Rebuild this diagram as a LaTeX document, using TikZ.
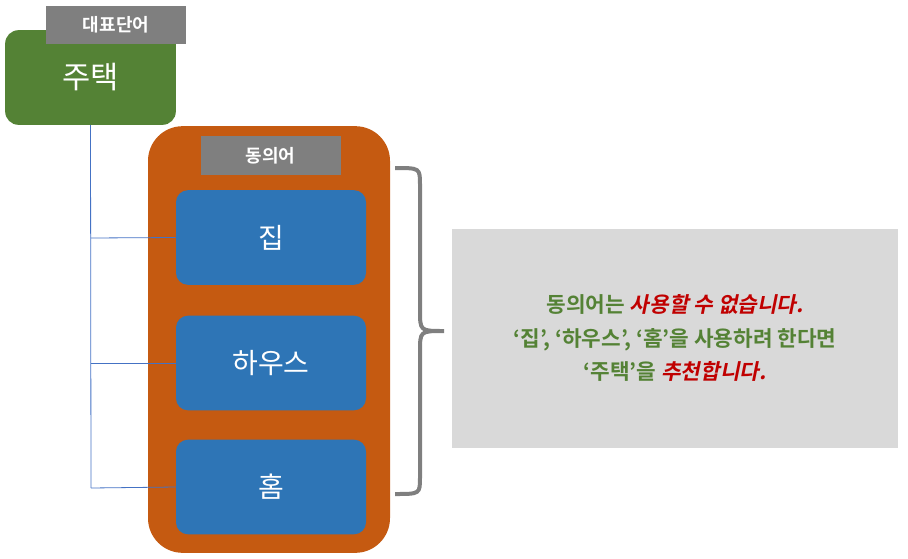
\documentclass[tikz,border=0pt]{standalone}
\usepackage{fontspec}
\setmainfont{Noto Sans CJK KR}
\newfontfamily\kr{Noto Sans CJK KR}
\newfontfamily\kb{Noto Sans CJK KR Bold}
\newfontfamily\kbi[FakeSlant=0.2]{Noto Sans CJK KR Bold}
\definecolor{gr}{HTML}{548235}
\definecolor{og}{HTML}{C55A11}
\definecolor{bl}{HTML}{2E75B6}
\definecolor{ln}{HTML}{4472C4}
\definecolor{gy}{HTML}{7F7F7F}
\definecolor{lg}{HTML}{D9D9D9}
\definecolor{rd}{HTML}{C00000}
\tikzset{
 bluebox/.style={fill=bl,rounded corners=9pt,minimum width=142.5pt,minimum height=71pt,text=white,font=\kr\fontsize{21}{24}\selectfont},
 taglbl/.style={fill=gy,text=white,minimum width=105pt,minimum height=29pt,font=\kb\fontsize{13.5}{16}\selectfont},
 conn/.style={draw=ln,line width=0.6pt}
}
\begin{document}
\begin{tikzpicture}[x=0.75pt,y=-0.75pt]
\useasboundingbox (0,0) rectangle (908,558);
\node[fill=gr,rounded corners=10pt,minimum width=128pt,minimum height=71pt,text=white,font=\kr\fontsize{23}{26}\selectfont] (main) at (90.5,77.5) {주택};
\node[taglbl] (tag1) at (116,25) {대표단어};
\node[fill=og,rounded corners=26pt,minimum width=181.5pt,minimum height=320pt] (org) at (269,339.5) {};
\node[taglbl] (tag2) at (270.5,155.5) {동의어};
\node[bluebox] (b1) at (271,237.5) {집};
\node[bluebox] (b2) at (271,363) {하우스};
\node[bluebox] (b3) at (271,487) {홈};
\coordinate (top) at (91,125);
\coordinate (bot) at (91,488);
\draw[conn] (main.south) -- (bot);
\draw[conn] (91,238) -- (b1.west);
\draw[conn] (91,363) -- (b2.west);
\draw[conn] (91,488) -- (b3.west);
\draw[gy,line width=3pt] (395,168) .. controls (420,168) .. (420,185) -- (420,310) .. controls (420,331) .. (444,331) .. controls (420,331) .. (420,352) -- (420,477) .. controls (420,494) .. (395,494);
\node[fill=lg,minimum width=334.5pt,minimum height=164pt] (txt) at (675,338.5) {};
\node[align=center,font=\kb\fontsize{16}{25}\selectfont,text=gr] (msg) at (675,338) {동의어는 {\kbi\color{rd}사용할 수 없습니다.}\\‘집’, ‘하우스’, ‘홈’을 사용하려 한다면\\‘주택’을 {\kbi\color{rd}추천합니다.}};
\end{tikzpicture}
\end{document}
